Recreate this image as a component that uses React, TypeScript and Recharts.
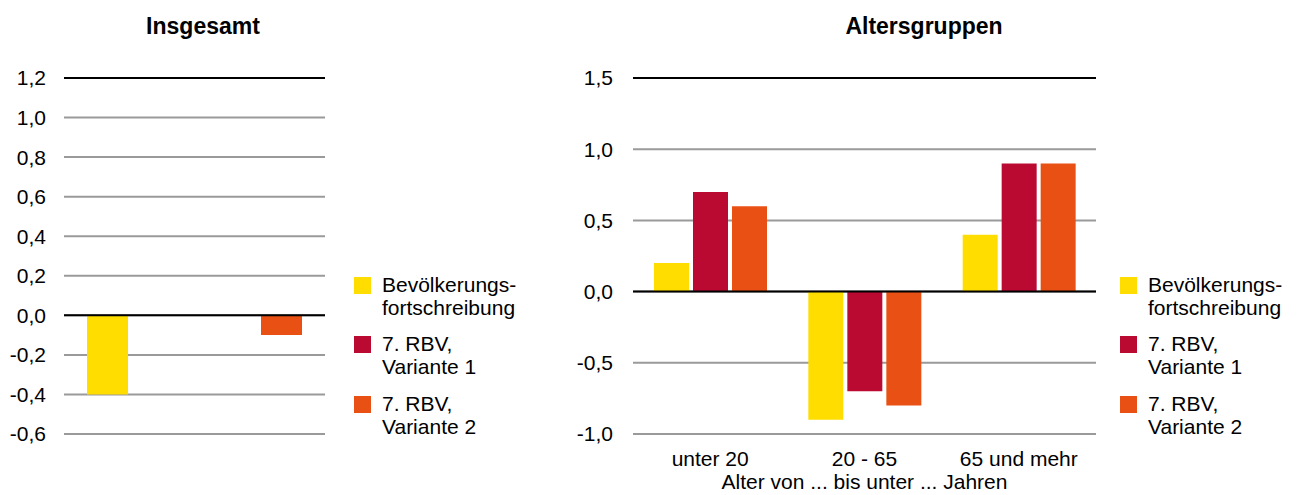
import { BarChart, Bar, XAxis, YAxis, CartesianGrid, ReferenceLine, Label } from "recharts";

// series names + colours
const seriesNames = ["Bevölkerungs-\nfortschreibung", "7. RBV,\nVariante 1", "7. RBV,\nVariante 2"];
const seriesColors = ["#FFDD00", "#BA0A32", "#E85113"];
const seriesKeys = ["fortschreibung", "variante1", "variante2"];

// left panel: total
const totalCategories = ["Insgesamt"];
const totalFortschreibung = [-0.4];
const totalVariante1 = [0];
const totalVariante2 = [-0.1];
const totalTicks = [-0.6, -0.4, -0.2, 0, 0.2, 0.4, 0.6, 0.8, 1.0, 1.2];

// right panel: age groups
const ageGroups = ["unter 20", "20 - 65", "65 und mehr"];
const ageFortschreibung = [0.2, -0.9, 0.4];
const ageVariante1 = [0.7, -0.7, 0.9];
const ageVariante2 = [0.6, -0.8, 0.9];
const ageTicks = [-1.0, -0.5, 0, 0.5, 1.0, 1.5];
const ageAxisLabel = "Alter von ... bis unter ... Jahren";

const FONT = "Arial, 'Liberation Sans', sans-serif";
const FS = 21;
const GRID = "#9a9a9a";

const totalData = totalCategories.map((name, i) => ({
  name,
  fortschreibung: totalFortschreibung[i],
  variante1: totalVariante1[i],
  variante2: totalVariante2[i],
}));

const ageData = ageGroups.map((name, i) => ({
  name,
  fortschreibung: ageFortschreibung[i],
  variante1: ageVariante1[i],
  variante2: ageVariante2[i],
}));

const fmt = (v: number) => v.toFixed(1).replace(".", ",");

function Title({ text, center }: { text: string; center: number }) {
  return (
    <div
      style={{
        position: "absolute",
        left: center - 150,
        width: 300,
        top: 15,
        textAlign: "center",
        fontFamily: FONT,
        fontWeight: "bold",
        fontSize: 23,
        lineHeight: "23px",
        color: "#000",
      }}
    >
      {text}
    </div>
  );
}

function SideLegend({ left }: { left: number }) {
  return (
    <div
      style={{
        position: "absolute",
        left,
        top: 274,
        display: "flex",
        flexDirection: "column",
        gap: 14,
        fontFamily: FONT,
        fontSize: FS,
        lineHeight: "22.7px",
        color: "#000",
      }}
    >
      {seriesNames.map((n, i) => (
        <div key={n} style={{ position: "relative", paddingLeft: 28, whiteSpace: "pre" }}>
          <span
            style={{
              position: "absolute",
              left: 0,
              top: 3,
              width: 17,
              height: 17,
              background: seriesColors[i],
            }}
          />
          {n}
        </div>
      ))}
    </div>
  );
}

export default function App() {
  const tick = { fill: "#000", fontSize: FS, fontFamily: FONT };
  return (
    <div style={{ position: "relative", width: 1297, height: 495, background: "#fff" }}>
      <style>{"body{margin:0}"}</style>
      <Title text="Insgesamt" center={203} />
      <Title text="Altersgruppen" center={924} />

      <div style={{ position: "absolute", left: 0, top: 0 }}>
        <BarChart
          width={330}
          height={495}
          data={totalData}
          margin={{ top: 78, right: 5, bottom: 61, left: 0 }}
          barSize={41}
          barGap={46}
        >
          <CartesianGrid horizontal vertical={false} stroke={GRID} strokeWidth={2} />
          <XAxis dataKey="name" hide />
          <YAxis
            width={64}
            domain={[-0.6, 1.2]}
            ticks={totalTicks}
            tickFormatter={fmt}
            tick={tick}
            tickLine={false}
            axisLine={false}
            tickSize={0}
            tickMargin={18}
          />
          {seriesKeys.map((k, i) => (
            <Bar key={k} dataKey={k} fill={seriesColors[i]} isAnimationActive={false} />
          ))}
          <ReferenceLine y={0} stroke="#000" strokeWidth={2} />
          <ReferenceLine y={1.2} stroke="#000" strokeWidth={2} />
        </BarChart>
      </div>
      <SideLegend left={354} />

      <div style={{ position: "absolute", left: 560, top: 0 }}>
        <BarChart
          width={545}
          height={495}
          data={ageData}
          margin={{ top: 78, right: 9, bottom: 0, left: 0 }}
          barSize={35}
          barGap={4}
        >
          <CartesianGrid horizontal vertical={false} stroke={GRID} strokeWidth={2} />
          <XAxis
            dataKey="name"
            height={61}
            interval={0}
            tick={tick}
            tickLine={false}
            axisLine={false}
            tickSize={0}
            tickMargin={17}
          >
            <Label
              value={ageAxisLabel}
              position="insideBottom"
              offset={6}
              style={{ fill: "#000", fontSize: FS, fontFamily: FONT }}
            />
          </XAxis>
          <YAxis
            width={73}
            domain={[-1.0, 1.5]}
            ticks={ageTicks}
            tickFormatter={fmt}
            tick={tick}
            tickLine={false}
            axisLine={false}
            tickSize={0}
            tickMargin={20}
          />
          {seriesKeys.map((k, i) => (
            <Bar key={k} dataKey={k} fill={seriesColors[i]} isAnimationActive={false} />
          ))}
          <ReferenceLine y={0} stroke="#000" strokeWidth={2} />
          <ReferenceLine y={1.5} stroke="#000" strokeWidth={2} />
        </BarChart>
      </div>
      <SideLegend left={1120} />
    </div>
  );
}
